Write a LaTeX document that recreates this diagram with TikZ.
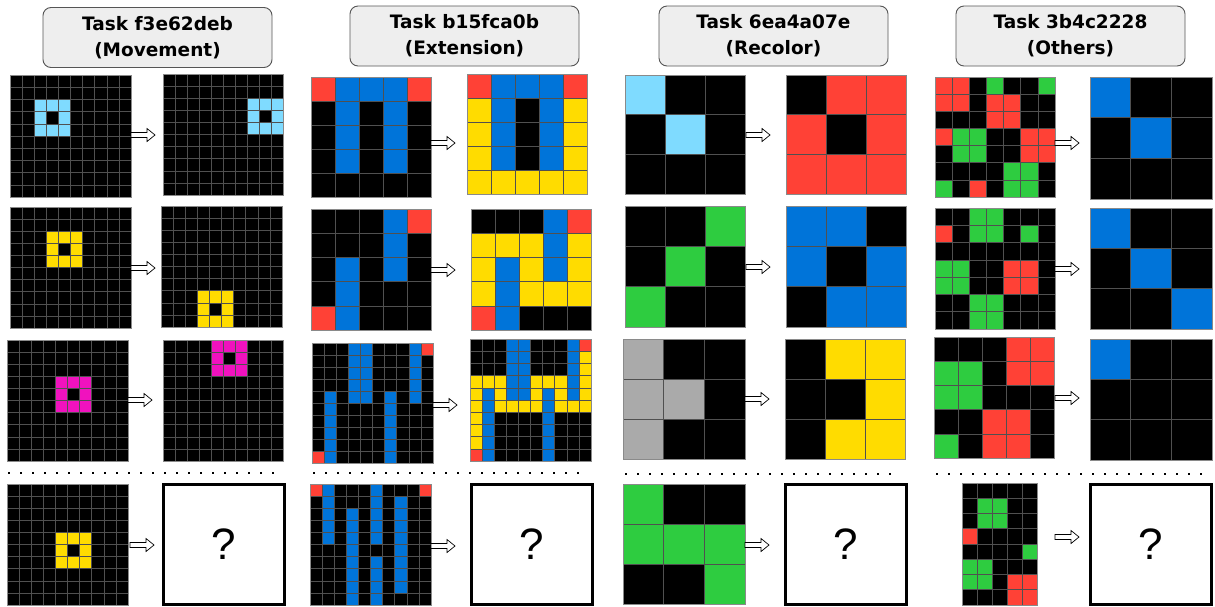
\documentclass[tikz,border=0pt]{standalone}
\usepackage{fontspec}
\newfontfamily\hdrfont{DejaVu Sans}
\newfontfamily\qfont{Liberation Sans}
\definecolor{arcK}{HTML}{000000}
\definecolor{arcC}{HTML}{7FDBFF}
\definecolor{arcY}{HTML}{FFDC00}
\definecolor{arcM}{HTML}{F012BE}
\definecolor{arcR}{HTML}{FF4136}
\definecolor{arcB}{HTML}{0074D9}
\definecolor{arcG}{HTML}{2ECC40}
\definecolor{arcA}{HTML}{AAAAAA}
\definecolor{gridgray}{HTML}{505050}
\definecolor{bordergray}{HTML}{8A8A8A}
\definecolor{hdrfill}{HTML}{EEEEEE}
\definecolor{hdrline}{HTML}{555555}
\tikzset{
  gridbox/.style={inner sep=0, outer sep=0},
  gridline/.style={draw=gridgray, line width=0.6},
  gridborder/.style={draw=bordergray, line width=0.9},
  header/.style={draw=hdrline, fill=hdrfill, rounded corners=8, line width=0.9,
    minimum width=229, minimum height=60, align=center, inner sep=0,
    font=\hdrfont\bfseries\fontsize{18.5}{26}\selectfont},
  qbox/.style={draw=black, fill=white, line width=3, minimum width=121,
    minimum height=120, inner sep=0, font=\qfont\fontsize{44}{44}\selectfont},
  flow/.style={draw=black, fill=white, line width=0.7, line join=miter},
  sepline/.style={draw=black, line width=2.2, dash pattern=on 2.2 off 9.8}
}
% name, x, y, width, height, ncols, nrows, paint list (colour/row1/row2/col1/col2)
\newcommand\arcgrid[8]{%
  \node[gridbox, minimum width=#4, minimum height=#5, anchor=north west] (#1) at (#2,#3) {};
  \pgfmathsetmacro\arccw{#4/#6}%
  \pgfmathsetmacro\arcch{#5/#7}%
  \fill[fill=arcK] (#2,#3) rectangle ++(#4,#5);
  \foreach \gcol/\gra/\grb/\gca/\gcb in {#8} {
    \fill[fill=arc\gcol] ({#2+\gca*\arccw},{#3+\gra*\arcch}) rectangle ({#2+(\gcb+1)*\arccw},{#3+(\grb+1)*\arcch});
  }
  \foreach \i in {1,...,#6} {\draw[gridline] ({#2+\i*\arccw},#3) -- ++(0,#5);}
  \foreach \i in {1,...,#7} {\draw[gridline] (#2,{#3+\i*\arcch}) -- ++(#4,0);}
  \draw[gridborder] (#1.north west) rectangle (#1.south east);
}
% name, x (tail), y
\newcommand\blockarrow[3]{%
  \coordinate (#1) at (#2,#3);
  \draw[flow] (#2,{#3-2.5}) -- ({#2+16},{#3-2.5}) -- ({#2+16},{#3-6.5}) -- ({#2+24},#3)
     -- ({#2+16},{#3+6.5}) -- ({#2+16},{#3+2.5}) -- (#2,{#3+2.5}) -- cycle;
}
\begin{document}
\begin{tikzpicture}[x=1pt,y=-1pt]
\useasboundingbox (0,0) rectangle (1215,606);
\fill[white] (0,0) rectangle (1215,606);

% headers
\node[header] (h1) at (157.5,37.5) {Task f3e62deb\\(Movement)};
\node[header] (h2) at (464.5,36) {Task b15fca0b\\(Extension)};
\node[header] (h3) at (773.5,36) {Task 6ea4a07e\\(Recolor)};
\node[header] (h4) at (1070.5,36) {Task 3b4c2228\\(Others)};

% column 1: movement
\arcgrid{g11i}{10}{75}{121}{122}{10}{10}{C/2/4/2/4, K/3/3/3/3}
\arcgrid{g11o}{163}{74}{120}{121}{10}{10}{C/2/4/7/9, K/3/3/8/8}
\arcgrid{g12i}{10}{207}{121}{121}{10}{10}{Y/2/4/3/5, K/3/3/4/4}
\arcgrid{g12o}{161}{206}{121}{121}{10}{10}{Y/7/9/3/5, K/8/8/4/4}
\arcgrid{g13i}{7}{340}{121}{121}{10}{10}{M/3/5/4/6, K/4/4/5/5}
\arcgrid{g13o}{163}{340}{120}{121}{10}{10}{M/0/2/4/6, K/1/1/5/5}
\arcgrid{g14i}{7}{484}{121}{121}{10}{10}{Y/4/6/4/6, K/5/5/5/5}
\node[qbox] (q1) at (224,544.5) {?};
\blockarrow{a11}{131}{135}
\blockarrow{a12}{131}{268}
\blockarrow{a13}{128}{400}
\blockarrow{a14}{130}{545}
\coordinate (d1a) at (8,473);
\coordinate (d1b) at (282,473);
\draw[sepline] (d1a) -- (d1b);

% column 2: extension
\arcgrid{g21i}{311}{77}{120}{120}{5}{5}{R/0/0/0/0, B/0/0/1/3, R/0/0/4/4, B/1/3/1/1, B/1/3/3/3}
\arcgrid{g21o}{467}{74}{120}{120}{5}{5}{R/0/0/0/0, B/0/0/1/3, R/0/0/4/4, Y/1/4/0/0, Y/1/4/4/4, Y/4/4/1/3, B/1/3/1/1, B/1/3/3/3}
\arcgrid{g22i}{311}{209}{120}{121}{5}{5}{B/0/2/3/3, R/0/0/4/4, B/2/4/1/1, R/4/4/0/0}
\arcgrid{g22o}{471}{209}{120}{121}{5}{5}{Y/1/3/0/4, B/0/2/3/3, R/0/0/4/4, B/2/4/1/1, R/4/4/0/0}
\arcgrid{g23i}{312}{343}{121}{120}{10}{10}{B/0/4/3/4, B/0/4/8/8, R/0/0/9/9, B/4/9/1/1, B/4/9/6/6, R/9/9/0/0}
\arcgrid{g23o}{470}{339}{121}{122}{10}{10}{B/0/4/3/4, B/0/4/8/8, R/0/0/9/9, Y/1/5/9/9, Y/3/5/0/2, Y/3/5/5/7, Y/5/5/3/4, Y/5/5/8/8, Y/6/8/0/0, B/4/9/1/1, B/4/9/6/6, R/9/9/0/0}
\arcgrid{g24i}{310}{484}{121}{121}{10}{10}{R/0/0/0/0, R/0/0/9/9, B/0/4/1/1, B/2/9/3/3, B/0/4/5/5, B/6/9/5/5, B/1/8/7/7}
\node[qbox] (q2) at (532,544.5) {?};
\blockarrow{a21}{431}{143}
\blockarrow{a22}{431}{270}
\blockarrow{a23}{433}{405}
\blockarrow{a24}{431}{546}
\coordinate (d2a) at (313,473);
\coordinate (d2b) at (586,473);
\draw[sepline] (d2a) -- (d2b);

% column 3: recolor
\arcgrid{g31i}{625}{75}{120}{119}{3}{3}{C/0/0/0/0, C/1/1/1/1}
\arcgrid{g31o}{786}{75}{120}{119}{3}{3}{R/0/0/1/2, R/1/2/0/0, R/1/2/2/2, R/2/2/1/1}
\arcgrid{g32i}{625}{206}{120}{121}{3}{3}{G/0/0/2/2, G/1/1/1/1, G/2/2/0/0}
\arcgrid{g32o}{786}{206}{120}{121}{3}{3}{B/0/0/0/1, B/1/1/0/0, B/1/1/2/2, B/2/2/1/2}
\arcgrid{g33i}{623}{339}{122}{120}{3}{3}{A/0/2/0/0, A/1/1/1/1}
\arcgrid{g33o}{785}{339}{120}{120}{3}{3}{Y/0/0/1/2, Y/1/1/2/2, Y/2/2/1/2}
\arcgrid{g34i}{623}{484}{122}{120}{3}{3}{G/0/0/0/0, G/1/1/0/2, G/2/2/2/2}
\node[qbox] (q3) at (845.5,544.5) {?};
\blockarrow{a31}{746}{135}
\blockarrow{a32}{746}{267}
\blockarrow{a33}{745}{399}
\blockarrow{a34}{745}{545}
\coordinate (d3a) at (625,474);
\coordinate (d3b) at (897,474);
\draw[sepline] (d3a) -- (d3b);

% column 4: others
\arcgrid{g41i}{935}{77}{120}{120}{7}{7}{R/0/1/0/1, G/0/0/3/3, G/0/0/6/6, R/1/2/3/4, R/3/3/0/0, G/3/4/1/2, R/3/4/5/6, G/5/6/4/5, G/6/6/0/0, R/6/6/2/2}
\arcgrid{g41o}{1090}{77}{122}{122}{3}{3}{B/0/0/0/0, B/1/1/1/1}
\arcgrid{g42i}{935}{208}{120}{121}{7}{7}{G/0/1/2/3, R/1/1/0/0, G/1/1/5/5, G/3/4/0/1, R/3/4/4/5, G/5/6/2/3}
\arcgrid{g42o}{1090}{208}{122}{121}{3}{3}{B/0/0/0/0, B/1/1/1/1, B/2/2/2/2}
\arcgrid{g43i}{934}{337}{120}{121}{5}{5}{R/0/1/3/4, G/1/2/0/1, R/3/4/2/3, G/4/4/0/0}
\arcgrid{g43o}{1090}{339}{122}{121}{3}{3}{B/0/0/0/0}
\arcgrid{g44i}{962}{483}{75}{122}{5}{8}{G/1/2/1/2, R/3/3/0/0, G/4/4/4/4, G/5/6/0/1, R/6/7/3/4}
\node[qbox] (q4) at (1151,544.5) {?};
\blockarrow{a41}{1055}{143}
\blockarrow{a42}{1055}{269}
\blockarrow{a43}{1055}{398}
\blockarrow{a44}{1055}{537}
\coordinate (d4a) at (936,474);
\coordinate (d4b) at (1209,474);
\draw[sepline] (d4a) -- (d4b);
\end{tikzpicture}
\end{document}
